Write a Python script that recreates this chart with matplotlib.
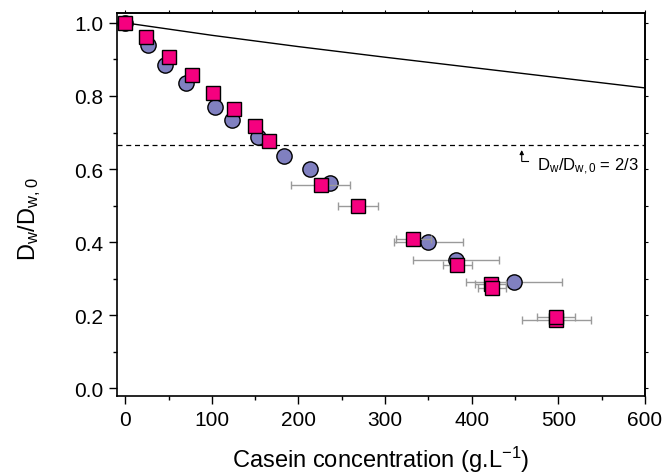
import matplotlib
matplotlib.use("Agg")
import matplotlib.pyplot as plt
from matplotlib.ticker import MultipleLocator

plt.rcParams['font.family'] = ['Liberation Sans', 'DejaVu Sans']
plt.rcParams['mathtext.fontset'] = 'custom'
plt.rcParams['mathtext.rm'] = 'Liberation Sans'
plt.rcParams['mathtext.it'] = 'Liberation Sans:italic'

# Series 1: circles
circ_x = [0, 26, 45.4, 70, 103.5, 123, 152.7, 183, 213.5, 236.5, 350, 381.9, 448.8]
circ_y = [1.0, 0.940, 0.886, 0.836, 0.769, 0.734, 0.689, 0.637, 0.600, 0.563, 0.401, 0.352, 0.292]
circ_xerr = [0, 0, 0, 0, 0, 0, 0, 0, 0, 0, 40, 50, 55]

# Series 2: squares
sq_x = [0, 24.2, 50, 77, 100.8, 125, 150, 166.5, 225.8, 268.8, 332.7, 383.5, 421.8, 423.4, 497.5, 497.7]
sq_y = [1.0, 0.961, 0.906, 0.858, 0.809, 0.763, 0.719, 0.676, 0.557, 0.498, 0.409, 0.3375, 0.285, 0.275, 0.187, 0.196]
sq_xerr = [0, 0, 0, 0, 0, 0, 0, 0, 34, 23, 20, 17, 18, 16, 40, 22]

# Model curve
model_x = [0, 100, 200, 300, 400, 500, 600]
model_y = [1.0, 0.966, 0.935, 0.906, 0.878, 0.850, 0.822]

threshold = 2 / 3

fig = plt.figure(figsize=(6.65, 4.77), dpi=100)
ax = fig.add_axes([117/665, 80/477, 528/665, 383/477])

ax.plot(model_x, model_y, color='black', lw=1.0, zorder=2)
ax.axhline(threshold, color='black', lw=0.9, ls=(0, (4, 3)), zorder=2)

ax.errorbar(circ_x, circ_y, xerr=circ_xerr, fmt='none', ecolor='#9a9a9a',
            elinewidth=1.0, capsize=3, capthick=1.0, zorder=3)
ax.plot(circ_x, circ_y, 'o', ms=11, mfc='#8080c0', mec='black', mew=1.0, ls='none', zorder=4)
ax.errorbar(sq_x, sq_y, xerr=sq_xerr, fmt='none', ecolor='#9a9a9a',
            elinewidth=1.0, capsize=3, capthick=1.0, zorder=5)
ax.plot(sq_x, sq_y, 's', ms=10, mfc='#f5007f', mec='black', mew=1.0, ls='none', zorder=6)

# annotation for threshold
ax.plot([457.7, 464.5], [0.622, 0.622], color='black', lw=0.8, zorder=7)
ax.annotate('', xy=(457.7, 0.652), xytext=(457.7, 0.621),
            arrowprops=dict(arrowstyle='-|>', lw=0.8, color='black', mutation_scale=6,
                            shrinkA=0, shrinkB=0))
ax.text(475, 0.609, r'$\mathregular{D_w/D_{w,0}}$ = 2/3', fontsize=12, va='center', ha='left')

ax.set_xlim(-9.5, 600)
ax.set_ylim(-0.021, 1.027)
ax.xaxis.set_major_locator(MultipleLocator(100))
ax.xaxis.set_minor_locator(MultipleLocator(50))
ax.set_yticks([0.0, 0.2, 0.4, 0.6, 0.8, 1.0])
ax.set_yticklabels(['0.0', '0.2', '0.4', '0.6', '0.8', '1.0'])
ax.yaxis.set_minor_locator(MultipleLocator(0.1))

ax.tick_params(which='major', direction='out', length=6, width=1.0, labelsize=15, pad=4)
ax.tick_params(which='minor', direction='out', length=3, width=1.0)
for s in ax.spines.values():
    s.set_linewidth(1.2)

# small ticks on top and right
top = ax.secondary_xaxis('top')
top.xaxis.set_major_locator(MultipleLocator(50))
top.tick_params(direction='out', length=2, width=0.8, labeltop=False)
top.spines['top'].set_linewidth(1.2)
right = ax.secondary_yaxis('right')
right.yaxis.set_major_locator(MultipleLocator(0.1))
right.tick_params(direction='out', length=2, width=0.8, labelright=False)
right.spines['right'].set_linewidth(1.2)

ax.set_xlabel(r'Casein concentration (g.L$\mathregular{^{-1}}$)', fontsize=17, labelpad=11)
ax.set_ylabel(r'$\mathregular{D_w/D_{w,0}}$', fontsize=17)
ax.yaxis.set_label_coords(-0.14, 0.465)

fig.savefig('out.png', dpi=100)
